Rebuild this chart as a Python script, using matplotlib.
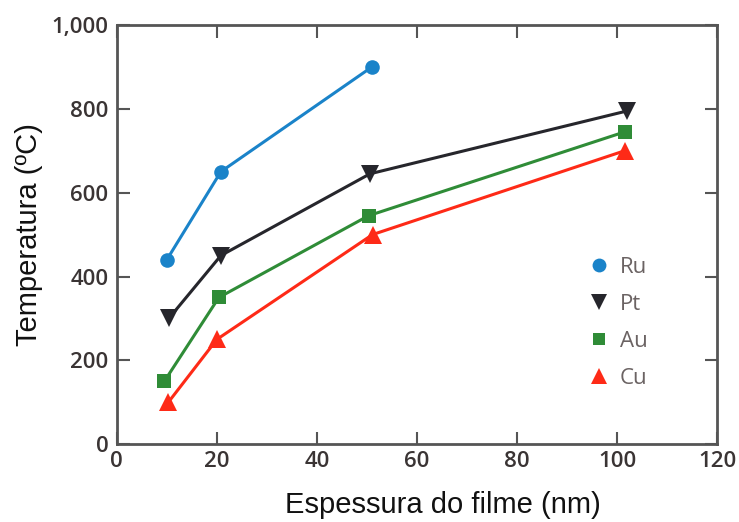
import matplotlib
matplotlib.use("Agg")
import matplotlib.pyplot as plt
from matplotlib.font_manager import FontProperties
from matplotlib.lines import Line2D
from matplotlib.ticker import FuncFormatter

# Film thickness (nm) vs. temperature (degC) for each metal
ru_x = [10, 20.8, 51]
ru_y = [440, 650, 900]
pt_x = [10.4, 20.8, 50.6, 102]
pt_y = [300, 450, 645, 795]
au_x = [9.5, 20.4, 50.3, 101.5]
au_y = [150, 350, 545, 745]
cu_x = [10.3, 20, 51.1, 101.5]
cu_y = [100, 250, 500, 700]

series = [
    ("Ru", ru_x, ru_y, "o", "#1a83c9", 10.5),
    ("Pt", pt_x, pt_y, "v", "#26262c", 12.5),
    ("Au", au_x, au_y, "s", "#2f8c37", 9.5),
    ("Cu", cu_x, cu_y, "^", "#fe2a17", 12.5),
]

x_ticks = [0, 20, 40, 60, 80, 100, 120]
y_ticks = [0, 200, 400, 600, 800, 1000]

fig = plt.figure(figsize=(7.39, 5.22), dpi=100)
ax = fig.add_axes([0.158, 0.149, 0.8127, 0.8032])

for name, xs, ys, mk, col, ms in series:
    ax.plot(xs, ys, color=col, linewidth=2.2, marker=mk, markersize=ms,
            markeredgewidth=0, zorder=3)

ax.set_xlim(0, 120)
ax.set_ylim(0, 1000)
ax.set_xticks(x_ticks)
ax.set_yticks(y_ticks)
ax.yaxis.set_major_formatter(FuncFormatter(lambda v, p: f"{int(v):,}"))

tick_font = FontProperties(family="Open Sans", weight="semibold", size=16)
for lab in ax.get_xticklabels() + ax.get_yticklabels():
    lab.set_fontproperties(tick_font)
    lab.set_color("#3a3434")

ax.tick_params(axis="both", direction="in", length=9, width=1.5,
               color="#555555", top=True, right=True)
ax.tick_params(axis="y", pad=6)
ax.tick_params(axis="x", pad=5)
for side in ("top", "right", "left", "bottom"):
    ax.spines[side].set_color("#555555")
    ax.spines[side].set_linewidth(2.0)

ax.set_xlabel("Espessura do filme (nm)", family="Liberation Sans",
              fontsize=21, color="#111111")
ax.xaxis.set_label_coords(0.543, -0.112)
ax.set_ylabel("Temperatura (ºC)", family="Liberation Sans",
              fontsize=21, color="#111111", labelpad=6)

handles = [Line2D([], [], linestyle="none", marker=mk, color=col,
                  markersize=ms * 0.95, markeredgewidth=0)
           for name, xs, ys, mk, col, ms in series]
leg = ax.legend(handles, [s[0] for s in series], loc="center left",
                bbox_to_anchor=(0.751, 0.29), frameon=False,
                handlelength=1.0, handletextpad=0.45, labelspacing=0.72,
                prop=dict(family="Open Sans", size=16))
for t in leg.get_texts():
    t.set_color("#6b6363")

fig.savefig("out.png", dpi=100)
